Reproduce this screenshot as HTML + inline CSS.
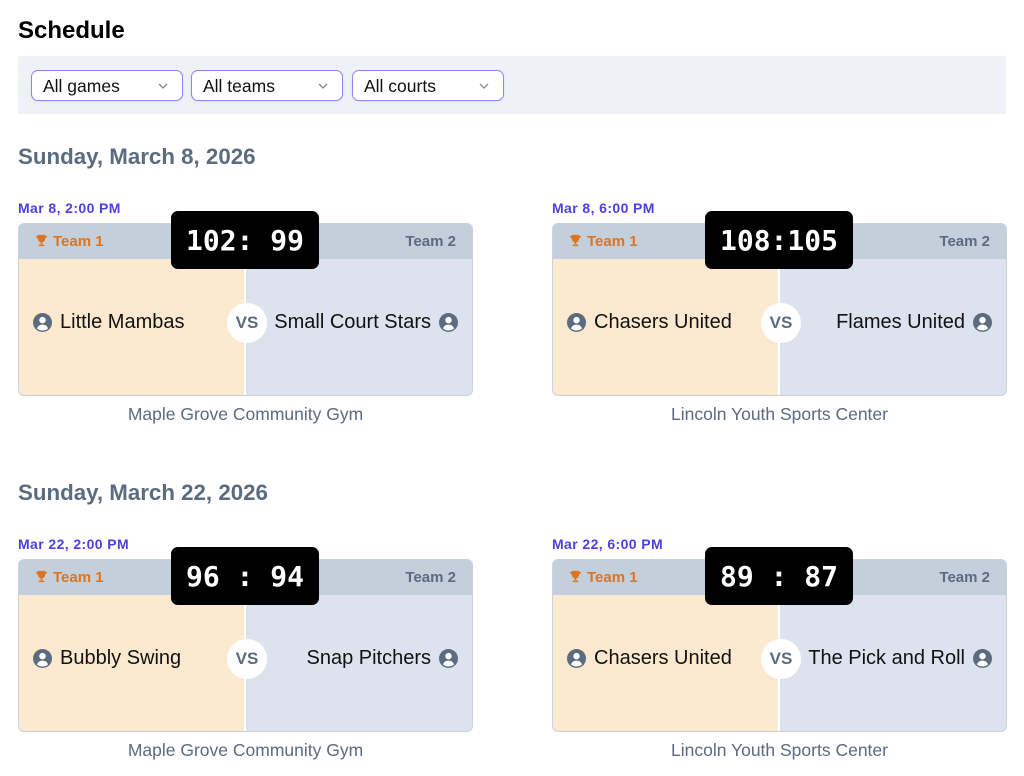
<!DOCTYPE html>
<html><head><meta charset="utf-8"><style>
*{box-sizing:border-box;margin:0;padding:0}
body{width:1024px;height:776px;background:#fff;font-family:"Liberation Sans",sans-serif;position:relative;overflow:hidden}
.a{position:absolute}
h1{position:absolute;left:18px;top:17px;font-size:24px;font-weight:bold;color:#000}
.bar{left:18px;top:56px;width:988px;height:58px;background:#eef2f7}
.sel{top:70px;width:152px;height:31px;border:1.5px solid #8b86f0;border-radius:7px;background:#fff;font-size:17.5px;color:#111;padding:5px 0 0 11px;box-shadow:0 1px 2px rgba(0,0,0,.08)}
.sel svg{position:absolute;right:14px;top:12px}
.date{left:18px;font-size:22.3px;font-weight:bold;color:#5b6b80}
.time{font-size:14px;font-weight:bold;color:#4f3fe0;letter-spacing:.4px}
.card{width:455px;height:173px;border:1px solid #c9d2de;border-radius:6px;overflow:hidden;background:#dde3ee}
.hd{position:absolute;left:0;top:0;width:100%;height:35px;background:#c4cfdc}
.l{position:absolute;left:0;top:35px;width:227px;height:138px;background:#fde9cf;border-right:2px solid #fff}
.t1{position:absolute;left:16px;top:9px;font-size:15px;font-weight:bold;color:#dd7420}
.t2{position:absolute;right:16px;top:9px;font-size:15px;font-weight:bold;color:#5b6b80}
.n1{position:absolute;left:14px;top:87px;font-size:20px;color:#111;display:flex;align-items:center;gap:8px}
.n2{position:absolute;right:14px;top:87px;font-size:20px;color:#111;display:flex;align-items:center;gap:8px}
.vs{position:absolute;left:208px;top:79px;width:40px;height:40px;border-radius:50%;background:#fff;color:#5b6b80;font-weight:bold;font-size:17px;text-align:center;line-height:40px}
.score{width:148px;height:58px;background:#000;border-radius:7px;color:#fff;font-family:"DejaVu Sans Mono","Liberation Mono",monospace;font-size:28px;font-weight:bold;text-align:center;line-height:60px;white-space:pre}
.venue{width:455px;text-align:center;font-size:17.5px;color:#5b6b80}
</style></head><body>
<h1>Schedule</h1>
<div class="a bar"></div>
<div class="a sel" style="left:31px">All games<svg width="10" height="6"><path d="M1 1l4 4 4-4" stroke="#888" fill="none" stroke-width="1.3"/></svg></div>
<div class="a sel" style="left:191px">All teams<svg width="10" height="6"><path d="M1 1l4 4 4-4" stroke="#888" fill="none" stroke-width="1.3"/></svg></div>
<div class="a sel" style="left:352px">All courts<svg width="10" height="6"><path d="M1 1l4 4 4-4" stroke="#888" fill="none" stroke-width="1.3"/></svg></div>

<div class="a date" style="top:144px">Sunday, March 8, 2026</div>
<div class="a date" style="top:480px">Sunday, March 22, 2026</div>

<script>
const U='<svg width="19" height="19" viewBox="0 0 20 20"><circle cx="10" cy="10" r="10" fill="#5b6b80"/><circle cx="10" cy="7.5" r="3.4" fill="#fff"/><path d="M4.2 16.2c1-2.8 3.2-4 5.8-4s4.8 1.2 5.8 4a8.5 8.5 0 0 1-11.6 0z" fill="#fff"/></svg>';
const T='<svg width="13" height="13" viewBox="0 0 14 14" style="vertical-align:-1px;margin-right:5px"><path d="M3 1h8v4a4 4 0 0 1-8 0z M1 2h2v2.5H2z M11 2h2l-1 2.5h-1z M6 8.5h2v2.5H6z M4 11.5h6V13H4z" fill="#dd7420"/></svg>';
const games=[
[18,0,'Mar 8, 2:00 PM','102: 99','Little Mambas','Small Court Stars','Maple Grove Community Gym'],
[552,0,'Mar 8, 6:00 PM','108:105','Chasers United','Flames United','Lincoln Youth Sports Center'],
[18,336,'Mar 22, 2:00 PM','96 : 94','Bubbly Swing','Snap Pitchers','Maple Grove Community Gym'],
[552,336,'Mar 22, 6:00 PM','89 : 87','Chasers United','The Pick and Roll','Lincoln Youth Sports Center']];
let h='';
for(const [x,dy,tm,sc,a,b,v] of games){
h+=`<div class="a time" style="left:${x}px;top:${200+dy}px">${tm}</div>
<div class="a card" style="left:${x}px;top:${223+dy}px"><div class="hd"></div><div class="l"></div>
<div class="t1">${T}Team 1</div><div class="t2">Team 2</div>
<div class="n1">${U}<span>${a}</span></div><div class="n2"><span>${b}</span>${U}</div><div class="vs">VS</div></div>
<div class="a score" style="left:${x+153}px;top:${211+dy}px">${sc}</div>
<div class="a venue" style="left:${x}px;top:${404+dy}px">${v}</div>`;}
document.write(h);
</script>
</body></html>
